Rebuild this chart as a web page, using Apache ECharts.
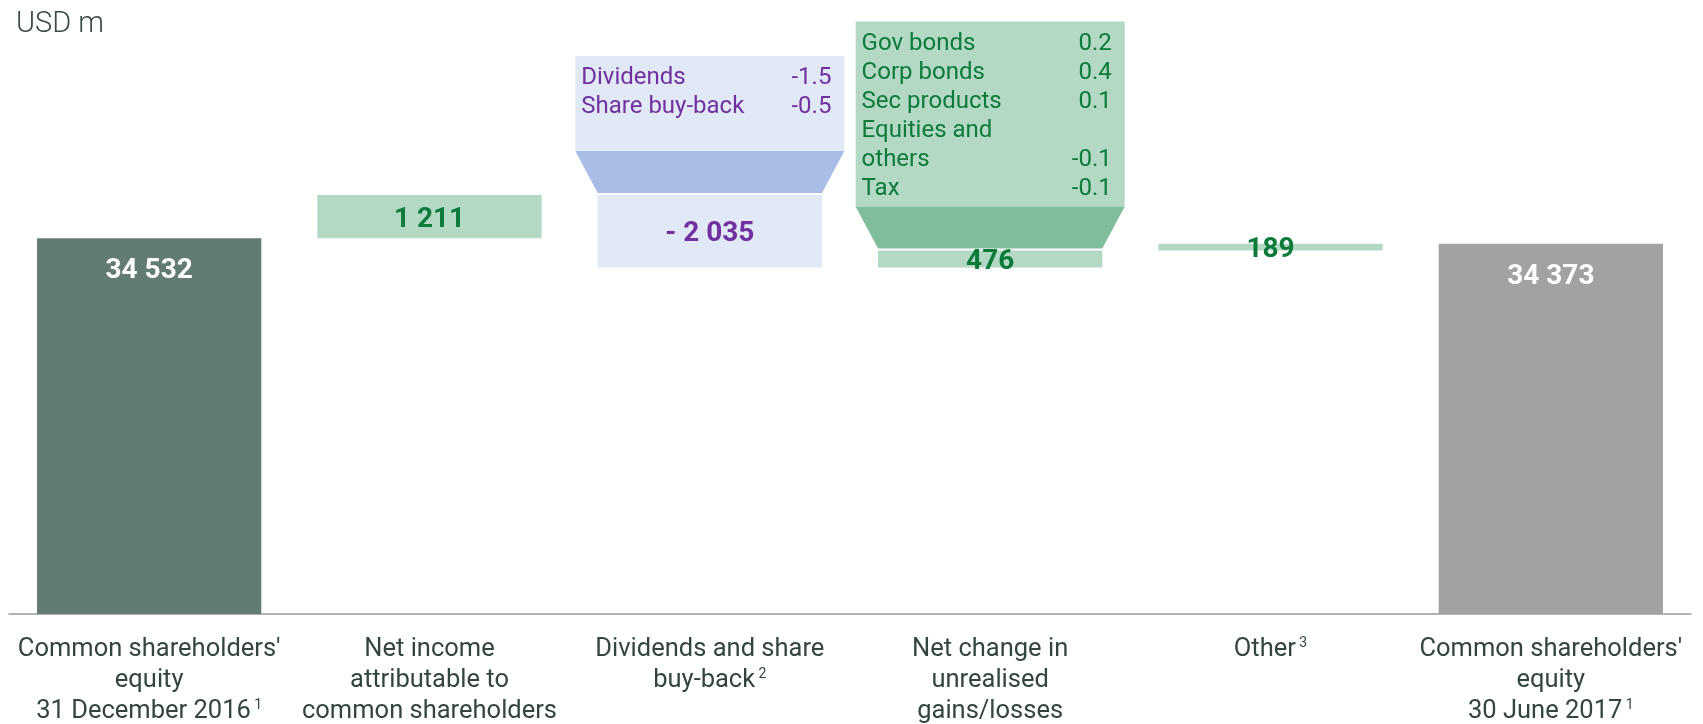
<!DOCTYPE html>
<html>
<head>
<meta charset="utf-8">
<script src="https://cdn.jsdelivr.net/npm/echarts@6/dist/echarts.min.js"></script>
<style>
  html, body { margin: 0; padding: 0; background: #fff; }
  #main { width: 1703px; height: 724px; }
</style>
</head>
<body>
<div id="main"></div>
<script>
// chart data
var categories = [
    "Common shareholders'\nequity\n31 December 2016{sup| 1}",
    'Net income\nattributable to\ncommon shareholders',
    'Dividends and share\nbuy-back{sup| 2}',
    'Net change in\nunrealised\ngains/losses',
    'Other{sup| 3}',
    "Common shareholders'\nequity\n30 June 2017{sup| 1}"
];
var values = [34532, 1211, -2035, 476, 189, 34373];
var isTotal = [true, false, false, false, false, true];

// breakdown boxes (USD bn)
var dividendItems = [['Dividends', '-1.5'], ['Share buy-back', '-0.5']];
var unrealisedItems = [
    ['Gov bonds', '0.2'], ['Corp bonds', '0.4'], ['Sec products', '0.1'],
    ['Equities and', ''], ['others', '-0.1'], ['Tax', '-0.1']
];

var FONT = 'Roboto, "Noto Sans", sans-serif';
var GREEN_TXT = '#0b7a3a';
var PURPLE = '#7030a0';

// waterfall: invisible base + visible piece
var base = [], piece = [], tops = [];
var running = 0;
for (var i = 0; i < values.length; i++) {
    if (isTotal[i]) {
        base.push(0);
        piece.push(values[i]);
        running = values[i];
        tops.push(values[i]);
    } else {
        var next = running + values[i];
        base.push(Math.min(running, next));
        piece.push(Math.abs(values[i]));
        tops.push(Math.max(running, next));
        running = next;
    }
}

function fmt(n) {
    var s = Math.abs(n).toString().replace(/\B(?=(\d{3})+(?!\d))/g, ' ');
    return (n < 0 ? '- ' : '') + s;
}

function barColor(i) {
    if (i === 0) return '#627b73';
    if (i === values.length - 1) return '#a2a2a2';
    return values[i] < 0 ? '#e1e8f6' : '#b3d8c4';
}
function labelColor(i) {
    if (isTotal[i]) return '#ffffff';
    return values[i] < 0 ? PURPLE : GREEN_TXT;
}

var boxes = [
    { items: dividendItems, rows: 3, fill: '#e1e8f6', trap: '#a9bde7', color: PURPLE },
    { items: unrealisedItems, rows: 6, fill: '#b3d8c4', trap: '#80bd9a', color: GREEN_TXT }
];

var myChart = echarts.init(document.getElementById('main'));

var option = {
    animation: false,
    title: {
        text: 'USD m',
        left: 11,
        top: 5,
        textStyle: { fontFamily: FONT, fontSize: 29, fontWeight: 300, color: '#3a4a45' }
    },
    grid: { left: 9, right: 12, top: 43, bottom: 110, outerBoundsMode: 'none' },
    xAxis: {
        type: 'category',
        data: categories,
        axisLine: { lineStyle: { color: '#9a9a9a', width: 1.5 } },
        axisTick: { length: 10, lineStyle: { color: '#9a9a9a', width: 1.5 } },
        axisLabel: {
            interval: 0,
            margin: 20,
            fontFamily: FONT,
            fontSize: 25.5,
            lineHeight: 31,
            color: '#34443f',
            rich: {
                sup: { fontFamily: FONT, fontSize: 14, color: '#34443f', padding: [0, 0, 13, 0] }
            }
        }
    },
    yAxis: { type: 'value', min: 24000, max: 40000, show: false, splitLine: { show: false } },
    series: [
        {
            type: 'bar',
            stack: 'wf',
            barWidth: '80%',
            itemStyle: { color: 'transparent' },
            data: base,
            silent: true
        },
        {
            type: 'bar',
            stack: 'wf',
            data: piece.map(function (v, i) {
                return {
                    value: v,
                    itemStyle: { color: barColor(i) },
                    label: isTotal[i]
                        ? { position: 'insideTop', distance: 19, color: labelColor(i) }
                        : { position: 'inside', offset: [0, 3], color: labelColor(i) }
                };
            }),
            label: {
                show: true,
                fontFamily: FONT,
                fontSize: 28,
                fontWeight: 'bold',
                formatter: function (p) { return fmt(values[p.dataIndex]); }
            }
        },
        {
            type: 'custom',
            data: [[2, tops[2], 0], [3, tops[3], 1]],
            renderItem: function (params, api) {
                var box = boxes[api.value(2)];
                var p = api.coord([api.value(0), api.value(1)]);
                var catW = api.size([1, 0])[0];
                var barW = catW * 0.8, boxW = catW * 0.96;
                var gap = 2, trapH = 42, lineH = 29;
                var boxH = box.rows * 30 + 5;
                var trapBottom = p[1] - gap;
                var trapTop = trapBottom - trapH;
                var boxTop = trapTop - boxH;
                var left = p[0] - boxW / 2, right = p[0] + boxW / 2;
                var children = [
                    {
                        type: 'rect',
                        shape: { x: left, y: boxTop, width: boxW, height: boxH },
                        style: { fill: box.fill }
                    },
                    {
                        type: 'polygon',
                        shape: { points: [[left, trapTop], [right, trapTop],
                            [p[0] + barW / 2, trapBottom], [p[0] - barW / 2, trapBottom]] },
                        style: { fill: box.trap }
                    }
                ];
                box.items.forEach(function (it, k) {
                    var y = boxTop + 22 + k * lineH;
                    children.push({
                        type: 'text',
                        style: { text: it[0], x: left + 6, y: y, fill: box.color,
                            fontFamily: FONT, fontSize: 24, textAlign: 'left', textVerticalAlign: 'middle' }
                    });
                    children.push({
                        type: 'text',
                        style: { text: it[1], x: right - 13, y: y, fill: box.color,
                            fontFamily: FONT, fontSize: 24, textAlign: 'right', textVerticalAlign: 'middle' }
                    });
                });
                return { type: 'group', children: children };
            }
        }
    ]
};
myChart.setOption(option);
</script>
</body>
</html>
